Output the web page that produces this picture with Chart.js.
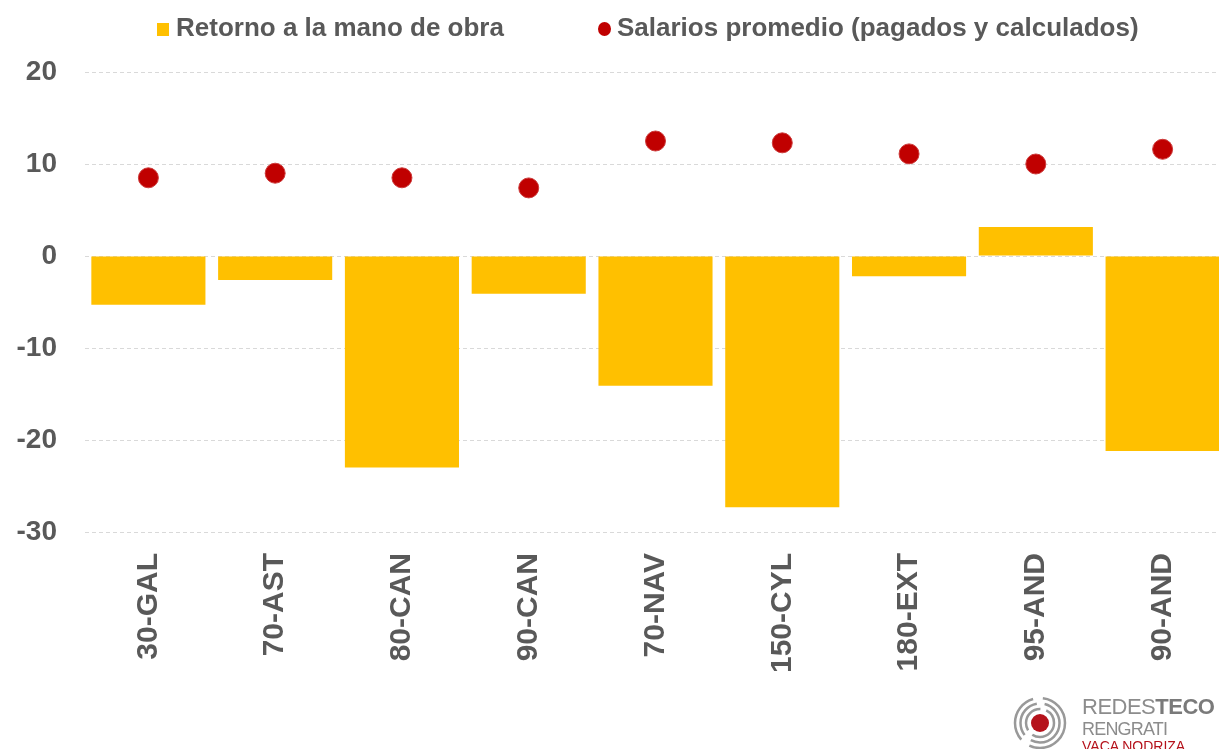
<!DOCTYPE html>
<html>
<head>
<meta charset="utf-8">
<script src="https://cdn.jsdelivr.net/npm/chart.js@4"></script>
<style>
  html, body { margin: 0; padding: 0; background: #fff; }
  #wrap { position: relative; width: 1219px; height: 749px; overflow: hidden; font-family: "Liberation Sans", Arial, sans-serif; }
  #legend { position: absolute; top: 12px; left: 0; width: 1219px; height: 30px; color: #595959; font-weight: bold; font-size: 26px; }
  .item { position: absolute; top: 0; white-space: nowrap; line-height: 30px; }
  .sq { display: inline-block; width: 12px; height: 13px; background: #FFC000; margin-right: 7px; vertical-align: 0px; }
  .dot { display: inline-block; width: 13px; height: 14px; border-radius: 50%; background: #C00000; margin-right: 6px; vertical-align: 0px; }
  #logo { position: absolute; left: 1010px; top: 690px; width: 209px; height: 59px; }
  .lt { position: absolute; left: 72px; white-space: nowrap; font-family: "Liberation Sans", Arial, sans-serif; }
</style>
</head>
<body>
<div id="wrap">
  <canvas id="chart" width="1237" height="749"></canvas>
  <div id="legend">
    <div class="item" style="left:157px"><span class="sq"></span>Retorno a la mano de obra</div>
    <div class="item" style="left:598px"><span class="dot"></span>Salarios promedio (pagados y calculados)</div>
  </div>
  <div id="logo">
    <svg width="70" height="59" style="position:absolute;left:0;top:0">
      <circle cx="30" cy="33" r="9" fill="#B5121B"/>
      <circle cx="30" cy="33" r="14" fill="none" stroke="#999" stroke-width="2.5" stroke-dasharray="30 6"/>
      <circle cx="30" cy="33" r="19.5" fill="none" stroke="#999" stroke-width="2.5" stroke-dasharray="40 8"/>
      <circle cx="30" cy="33" r="25" fill="none" stroke="#999" stroke-width="2.5" stroke-dasharray="50 10"/>
    </svg>
    <div class="lt" style="top:4px;font-size:22px;color:#8c8c8c;letter-spacing:-0.5px">REDES<b style="color:#7a7a7a">TECO</b></div>
    <div class="lt" style="top:29px;font-size:18px;color:#8c8c8c;letter-spacing:-0.8px">RENGRATI</div>
    <div class="lt" style="top:48px;font-size:14px;color:#B5121B">VACA NODRIZA</div>
  </div>
</div>
<script>
const categories = ['30-GAL', '70-AST', '80-CAN', '90-CAN', '70-NAV', '150-CYL', '180-EXT', '95-AND', '90-AND'];
const retornoManoObra = [-5.3, -2.6, -23.0, -4.1, -14.1, -27.3, -2.2, 3.15, -21.2];
const salariosPromedio = [8.5, 9.0, 8.5, 7.4, 12.5, 12.3, 11.1, 10.0, 11.6];
const yTicks = [20, 10, 0, -10, -20, -30];

const textGray = '#595959';
const gridGray = '#D9D9D9';

new Chart(document.getElementById('chart'), {
  type: 'bar',
  data: {
    labels: categories,
    datasets: [
      {
        type: 'line',
        label: 'Salarios promedio (pagados y calculados)',
        data: salariosPromedio,
        showLine: false,
        pointRadius: 10,
        pointHoverRadius: 10,
        pointBackgroundColor: '#C00000',
        pointBorderColor: '#CC3A3A',
        pointBorderWidth: 1,
        order: 0
      },
      {
        label: 'Retorno a la mano de obra',
        data: retornoManoObra,
        backgroundColor: '#FFC000',
        barPercentage: 0.9,
        categoryPercentage: 1,
        order: 1
      }
    ]
  },
  options: {
    responsive: false,
    animation: false,
    layout: { padding: { top: 72, right: 0, bottom: 0, left: 0 } },
    plugins: {
      legend: { display: false },
      tooltip: { enabled: false }
    },
    scales: {
      x: {
        grid: { display: false },
        border: { display: false },
        ticks: {
          color: textGray,
          font: { family: 'Liberation Sans', size: 30, weight: 'bold' },
          minRotation: 90,
          maxRotation: 90,
          padding: 13
        },
        afterFit: (scale) => { scale.height = 217; }
      },
      y: {
        min: -30,
        max: 20,
        grid: {
          color: gridGray,
          lineWidth: 1,
          drawTicks: false
        },
        border: { display: false, dash: [4, 3] },
        afterBuildTicks: (scale) => { scale.ticks = yTicks.map(v => ({ value: v })); },
        ticks: {
          color: textGray,
          font: { family: 'Liberation Sans', size: 28, weight: 'bold' },
          padding: 28
        },
        afterFit: (scale) => { scale.width = 85; }
      }
    }
  }
});
</script>
</body>
</html>
